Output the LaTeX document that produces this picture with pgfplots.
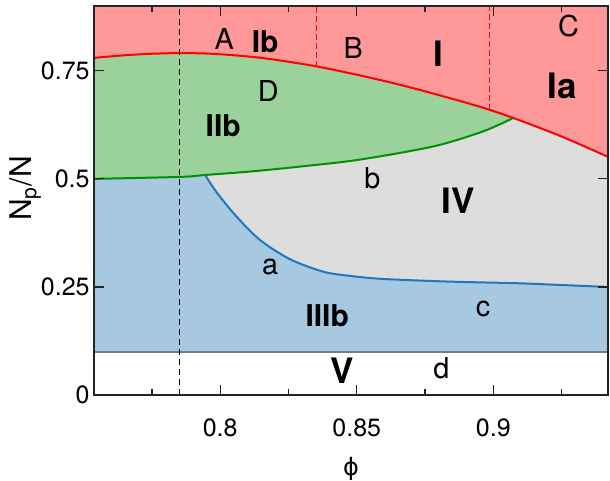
\documentclass[border=0pt]{standalone}
\usepackage{fontspec}
\setmainfont{TeX Gyre Heros}
\newfontfamily\dejavu{DejaVu Sans}
\usepackage{pgfplots}
\pgfplotsset{compat=1.18}
\usepgfplotslibrary{fillbetween}
\usetikzlibrary{calc}
\definecolor{redfill}{RGB}{255,153,153}
\definecolor{greenfill}{RGB}{155,209,155}
\definecolor{bluefill}{RGB}{166,200,224}
\definecolor{grayfill}{RGB}{221,221,221}
\definecolor{greenline}{RGB}{0,145,0}
\definecolor{blueline}{RGB}{31,119,190}
\definecolor{boundline}{RGB}{115,125,135}
\definecolor{axiscol}{RGB}{35,35,35}
\newcommand{\tickfont}{\fontsize{12.5}{14}\selectfont}
\newcommand{\letfont}{\fontsize{14.4}{16}\selectfont}
\newcommand{\bfa}{\fontsize{15}{17}\selectfont\bfseries}
\newcommand{\bfb}{\fontsize{17.5}{20}\selectfont\bfseries}

\begin{document}
\begin{tikzpicture}
\begin{axis}[
    set layers, axis on top,
    scale only axis, width=257pt, height=194.5pt,
    xmin=0.7538, xmax=0.942, ymin=0, ymax=0.9,
    xtick={0.8,0.85,0.9}, xticklabels={0.8,0.85,0.9},
    minor xtick={0.775,0.825,0.875,0.925},
    ytick={0,0.25,0.5,0.75}, yticklabels={0,0.25,0.5,0.75},
    tick align=inside,
    major tick length=5pt, minor tick length=3pt,
    every tick/.style={axiscol, line width=0.6pt},
    axis line style={axiscol, line width=1pt},
    /pgf/number format/assume math mode=true,
    xticklabel style={font=\tickfont, anchor=base, yshift=-21pt},
    yticklabel style={font=\tickfont, inner xsep=2pt},
    xlabel={\dejavu ϕ},
    xlabel style={at={(axis description cs:0.5,0)}, anchor=base,
                  yshift=-40.5pt, font=\fontsize{12}{14}\selectfont},
]
\coordinate (bl) at (rel axis cs:0,0);
\coordinate (tr) at (rel axis cs:1,1);
\coordinate (ym) at (rel axis cs:0,0.5);

\addplot[name path=top, draw=none] coordinates {(0.7538,0.9) (0.942,0.9)};
\addplot[name path=low, boundline, line width=1pt]
    coordinates {(0.7538,0.1) (0.942,0.1)};
\addplot[name path=lowr, draw=none] coordinates {(0.7945,0.1) (0.942,0.1)};
\addplot[name path=redc, red, line width=1pt, smooth] coordinates {
    (0.7538,0.780) (0.765,0.786) (0.775,0.7895) (0.785,0.791)
    (0.795,0.790) (0.805,0.786) (0.815,0.780) (0.825,0.771)
    (0.8355,0.760) (0.850,0.741) (0.865,0.719) (0.880,0.694)
    (0.895,0.667) (0.9073,0.641) (0.925,0.598) (0.942,0.551)};
\addplot[name path=greenc, greenline, line width=1pt, smooth] coordinates {
    (0.7538,0.500) (0.7853,0.5046) (0.7945,0.509) (0.811,0.517)
    (0.8293,0.5285) (0.8505,0.544) (0.878,0.575) (0.8963,0.610)
    (0.9073,0.641)};
\addplot[name path=bluec, blueline, line width=1pt, smooth] coordinates {
    (0.7945,0.509) (0.7988,0.468) (0.8061,0.412) (0.8147,0.358)
    (0.8256,0.314) (0.8377,0.2854) (0.8476,0.2755) (0.8597,0.2685)
    (0.8842,0.2623) (0.9087,0.2586) (0.9245,0.2546) (0.942,0.250)};

\addplot[redfill] fill between[of=top and redc];
\addplot[grayfill] fill between[of=redc and low];
\addplot[bluefill] fill between[of=greenc and low, soft clip={domain=0.7538:0.7945}];
\addplot[bluefill] fill between[of=bluec and lowr];
\addplot[greenfill] fill between[of=redc and greenc, soft clip={domain=0.7538:0.9073}];

% phase boundaries
\addplot[black, line width=0.5pt, dash pattern=on 3pt off 2pt]
    coordinates {(0.785,0) (0.785,0.9)};
\addplot[red, line width=0.6pt, dash pattern=on 3pt off 1.5pt]
    coordinates {(0.8354,0.760) (0.8354,0.9)};
\addplot[red, line width=0.6pt, dash pattern=on 3pt off 1.5pt]
    coordinates {(0.8985,0.660) (0.8985,0.9)};

% region labels
\node[anchor=base, font=\letfont] at (axis cs:0.8015,0.7986) {A};
\node[anchor=base, font=\bfa] at (axis cs:0.8165,0.792) {Ib};
\node[anchor=base, font=\letfont] at (axis cs:0.8487,0.779) {B};
\node[anchor=base, font=\bfb] at (axis cs:0.8799,0.760) {I};
\node[anchor=base, font=\letfont] at (axis cs:0.9275,0.829) {C};
\node[anchor=base, font=\bfb] at (axis cs:0.9253,0.687) {Ia};
\node[anchor=base, font=\letfont] at (axis cs:0.8176,0.679) {D};
\node[anchor=base, font=\bfa] at (axis cs:0.8011,0.598) {IIb};
\node[anchor=base, font=\letfont] at (axis cs:0.8557,0.478) {b};
\node[anchor=base, font=\bfb] at (axis cs:0.8872,0.4205) {IV};
\node[anchor=base, font=\letfont] at (axis cs:0.8183,0.278) {a};
\node[anchor=base, font=\bfa] at (axis cs:0.8392,0.158) {IIIb};
\node[anchor=base, font=\letfont] at (axis cs:0.8963,0.181) {c};
\node[anchor=base, font=\bfb] at (axis cs:0.8447,0.027) {V};
\node[anchor=base, font=\letfont] at (axis cs:0.881,0.0386) {d};
\end{axis}
\node[rotate=90, anchor=base, font=\fontsize{15}{18}\selectfont]
    at ($(ym)+(-31pt,6pt)$) {N\textsubscript{p}/N};
\pgfresetboundingbox
\useasboundingbox ($(bl)+(-47pt,-43pt)$) rectangle ($(tr)+(1pt,3pt)$);
\end{tikzpicture}
\end{document}
